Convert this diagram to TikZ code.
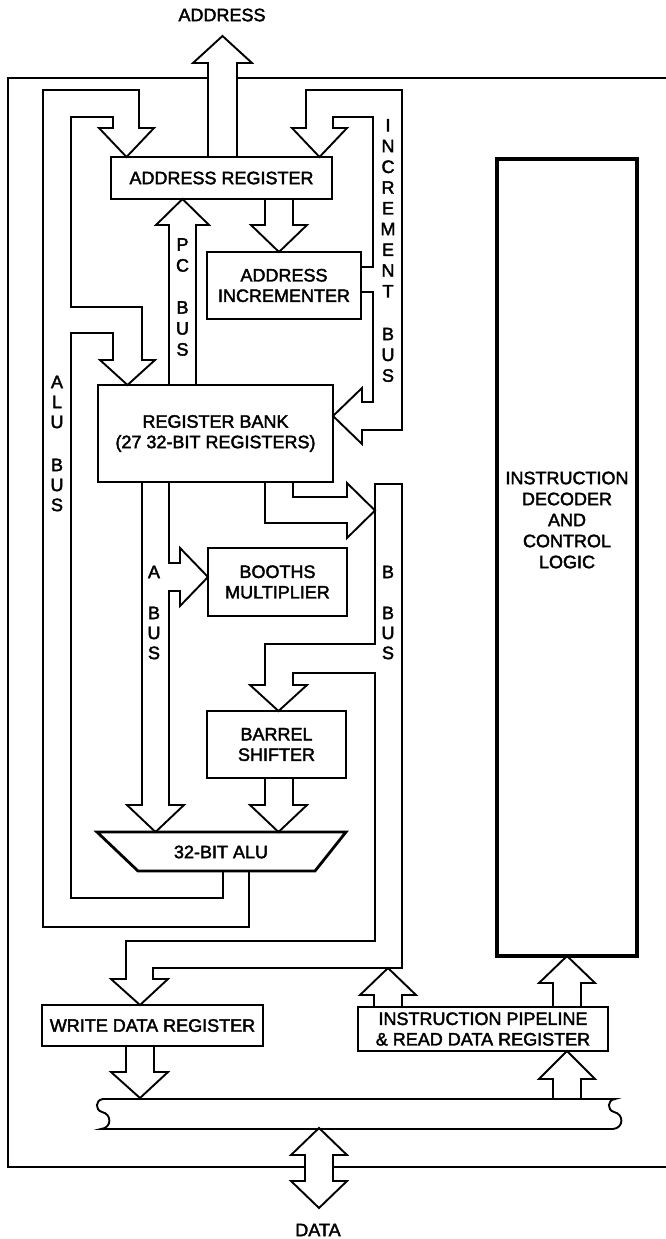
\documentclass[tikz,border=0pt]{standalone}
\usepackage{fontspec}
\setmainfont{Liberation Sans}[FakeBold=2.2]
\begin{document}
\begin{tikzpicture}[x=1pt,y=-1pt,
  bus/.style={line width=1.9pt, line join=miter, miter limit=10},
  box/.style={draw, line width=2.8pt, inner sep=0pt, align=center, font=\fontsize{18}{20.5}\selectfont},
  lbl/.style={inner sep=0pt, align=center, font=\fontsize{18}{20.5}\selectfont},
  vlbl/.style={inner sep=0pt, align=center, font=\fontsize{18}{20}\selectfont}]
\useasboundingbox (0,0) rectangle (666,1239);

% outer frame
\draw[bus] (208,78) -- (8,78) -- (8,1167) -- (305,1167);
\draw[bus] (237,78) -- (666,78);
\draw[bus] (333,1167) -- (666,1167);

% boxes
\node[box, minimum width=221pt, minimum height=42pt] (areg) at (221.5,178) {ADDRESS REGISTER};
\node[box, minimum width=154pt, minimum height=67pt] (ainc) at (284,285.5) {ADDRESS\\INCREMENTER};
\node[box, minimum width=235pt, minimum height=97pt] (rbank) at (215.5,433.5) {REGISTER BANK\\(27 32-BIT REGISTERS)};
\node[box, minimum width=139pt, minimum height=68pt] (booth) at (277.5,582) {BOOTHS\\MULTIPLIER};
\node[box, minimum width=139pt, minimum height=67pt] (barrel) at (276.5,744.5) {BARREL\\SHIFTER};
\node[box, minimum width=221pt, minimum height=41pt] (wdr) at (152.5,1025.5) {WRITE DATA REGISTER};
\node[box, minimum width=250pt, minimum height=44pt] (pipe) at (483,1029) {INSTRUCTION PIPELINE\\\& READ DATA REGISTER};
\node[draw, line width=4pt, inner sep=0pt, minimum width=140pt, minimum height=797pt] (dec) at (567,557.5) {};
\node[lbl, font=\fontsize{18}{21}\selectfont] (dectext) at (567,520) {INSTRUCTION\\DECODER\\AND\\CONTROL\\LOGIC};

% ALU trapezoid
\draw[line width=2.8pt, line join=miter] (97,832) -- (346,832) -- (315,871) -- (138,871) -- cycle;
\node[lbl] (alu) at (221,852) {32-BIT ALU};

% ADDRESS output
\draw[bus] (208,157) -- (208,63) -- (193,63) -- (222.5,36) -- (252,63) -- (237,63) -- (237,157);
\node[lbl] (addr) at (222,15) {ADDRESS};

% ALU bus loop
\draw[bus] (249,871) -- (249,927) -- (43,927) -- (43,90) -- (139,90) -- (139,128) -- (154,128) -- (126.5,157) -- (99,128) -- (113,128) -- (113,117) -- (71,117) -- (71,307) -- (142,307) -- (142,360) -- (155,360) -- (127.5,385) -- (100,360) -- (113,360) -- (113,333) -- (71,333) -- (71,898) -- (223,898) -- (223,871);
\node[vlbl] (alubus) at (57,443.5) {A\\L\\U\\[23pt]B\\U\\S};

% increment bus
\draw[bus] (361,267) -- (373,267) -- (373,117) -- (333,117) -- (333,128) -- (347,128) -- (319.5,157) -- (292,128) -- (306,128) -- (306,90) -- (402,90) -- (402,430) -- (362,430) -- (362,444) -- (333,416) -- (362,388) -- (362,402) -- (373,402) -- (373,292) -- (361,292);
\node[vlbl, font=\fontsize{18}{20.75}\selectfont] (incbus) at (388,250.5) {I\\N\\C\\R\\E\\M\\E\\N\\T\\[22pt]B\\U\\S};

% PC bus
\draw[bus] (169,385) -- (169,225) -- (156,225) -- (182.5,199) -- (209,225) -- (196,225) -- (196,385);
\node[vlbl, font=\fontsize{18}{21}\selectfont] (pcbus) at (182.5,297) {P\\C\\[21pt]B\\U\\S};

% address register -> incrementer
\draw[bus] (265,199) -- (265,225) -- (251,225) -- (279,252) -- (307,225) -- (293,225) -- (293,199);

% register bank -> B bus
\draw[bus] (293,482) -- (293,497) -- (347,497) -- (347,483) -- (375,510.5) -- (347,538) -- (347,523) -- (265,523) -- (265,482);

% A bus
\draw[bus] (142,482) -- (142,805) -- (127,805) -- (155.5,832) -- (184,805) -- (169,805) -- (169,591) -- (180,591) -- (180,606) -- (208,577) -- (180,548) -- (180,563) -- (169,563) -- (169,482);
\node[vlbl] (abus) at (154,612.5) {A\\[21pt]B\\U\\S};

% B bus
\draw[bus] (293,685) -- (293,673) -- (375,673) -- (375,941) -- (126,941) -- (126,979) -- (111,979) -- (140,1005) -- (168,979) -- (153,979) -- (153,968) -- (402,968) -- (402,484) -- (375,484) -- (375,644) -- (265,644) -- (265,685) -- (250,685) -- (278.5,711) -- (307,685) -- cycle;
\node[vlbl] (bbus) at (388,612.5) {B\\[21pt]B\\U\\S};

% barrel shifter -> ALU
\draw[bus] (265,778) -- (265,805) -- (250,805) -- (278.5,832) -- (307,805) -- (293,805) -- (293,778);

% write data register -> data bus
\draw[bus] (126,1046) -- (126,1072) -- (111,1072) -- (140,1098) -- (168,1072) -- (154,1072) -- (154,1046);

% pipeline -> B bus
\draw[bus] (374,1007) -- (374,995) -- (360,995) -- (388,968) -- (416,995) -- (402,995) -- (402,1007);

% pipeline -> decoder
\draw[bus] (553,1007) -- (553,983) -- (539,983) -- (567,956) -- (595,983) -- (581,983) -- (581,1007);

% data bus -> pipeline
\draw[bus] (553,1099) -- (553,1079) -- (539,1079) -- (567,1051) -- (595,1079) -- (581,1079) -- (581,1099);

% data bus
\draw[bus] (103,1099) -- (615,1099) .. controls (607,1100) and (607,1110) .. (614,1112) .. controls (624,1114) and (624,1128) .. (613,1129) -- (101,1129) .. controls (112,1128) and (112,1114) .. (102,1112) .. controls (95,1110) and (95,1100) .. (103,1099);

% DATA double arrow
\draw[bus] (305,1155) -- (291,1155) -- (319,1128) -- (347,1155) -- (333,1155) -- (333,1181) -- (347,1181) -- (319,1208) -- (291,1181) -- (305,1181) -- cycle;
\node[lbl] (data) at (318,1230) {DATA};
\end{tikzpicture}
\end{document}
